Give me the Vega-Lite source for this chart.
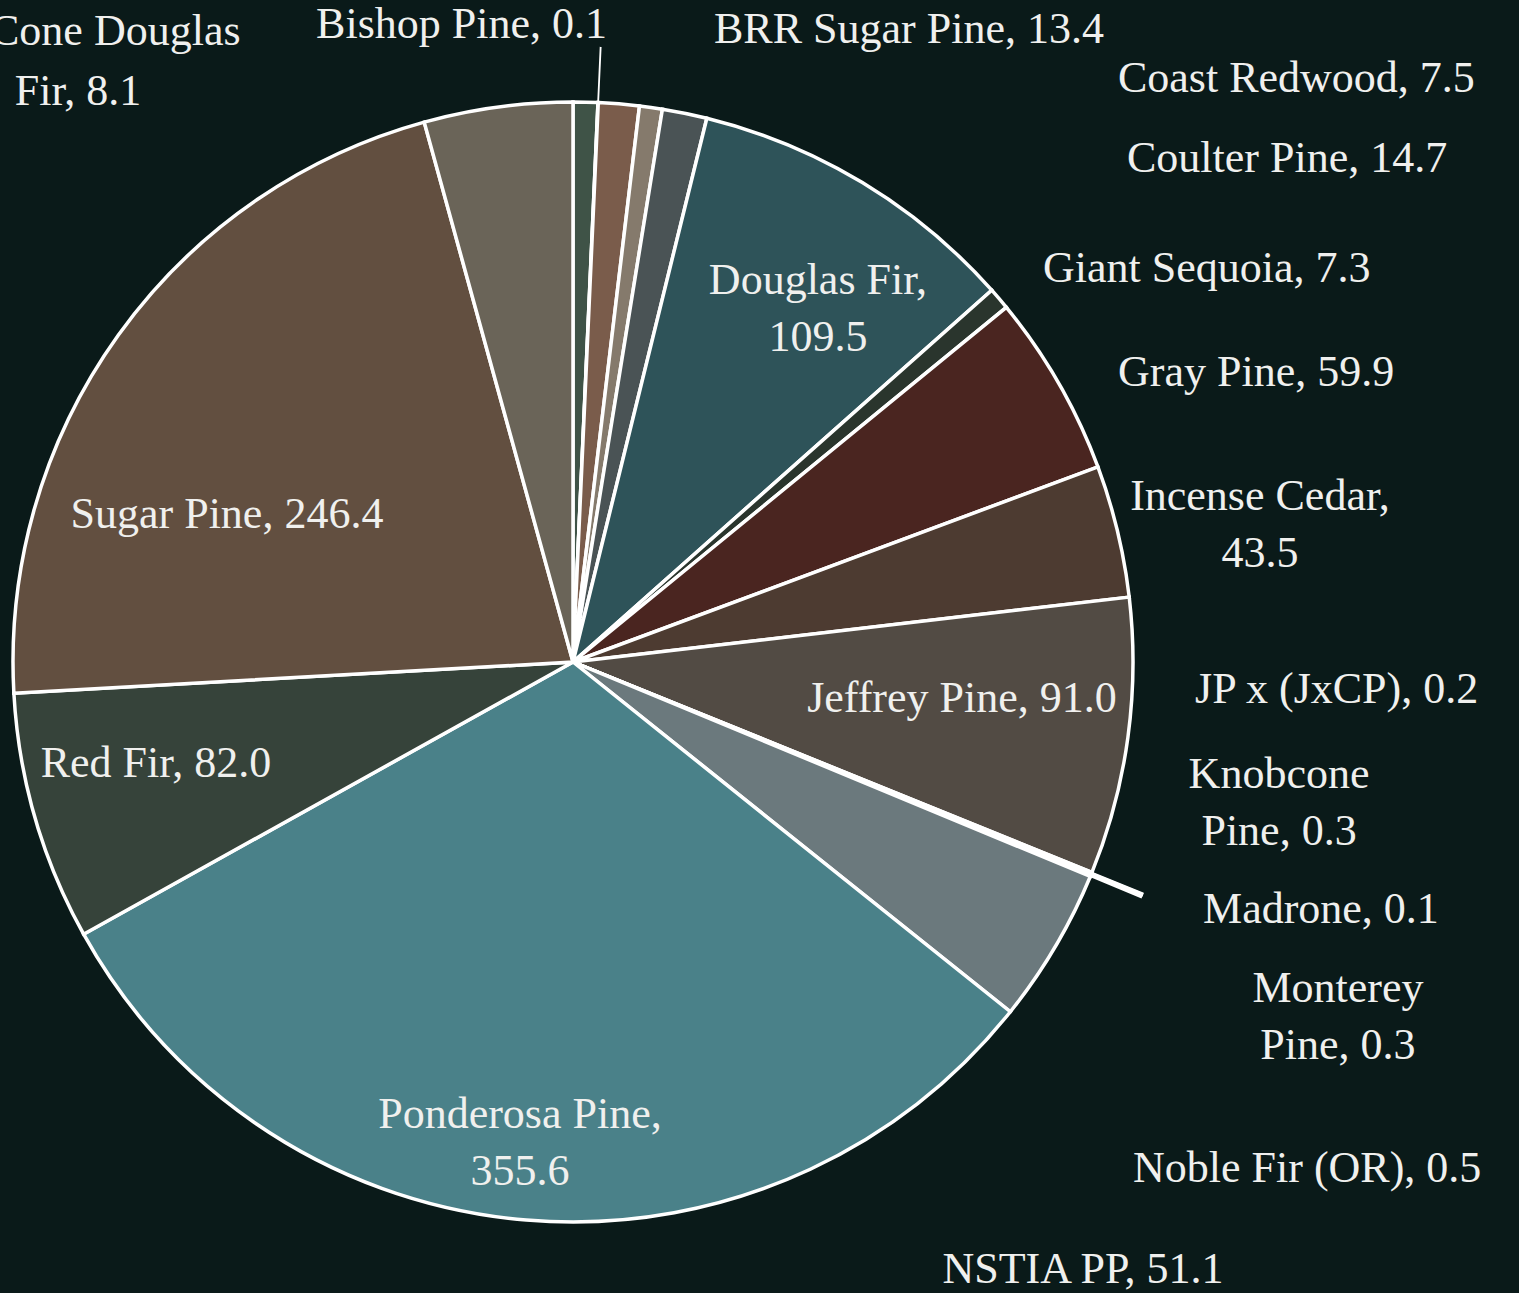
{
  "$schema": "https://vega.github.io/schema/vega-lite/v6.json",
  "autosize": "none",
  "width": 1146,
  "height": 1146,
  "padding": {"left": 0, "top": 89, "right": 373, "bottom": 58},
  "background": "#0a1a19",
  "config": {"view": {"stroke": null}},
  "data": {"values": [
    {"idx": 1, "name": "Big Cone Douglas Fir", "value": 8.1, "label": "Big Cone Douglas\nFir, 8.1"},
    {"idx": 2, "name": "Bishop Pine", "value": 0.1, "label": "Bishop Pine, 0.1"},
    {"idx": 3, "name": "BRR Sugar Pine", "value": 13.4, "label": "BRR Sugar Pine, 13.4"},
    {"idx": 4, "name": "Coast Redwood", "value": 7.5, "label": "Coast Redwood, 7.5"},
    {"idx": 5, "name": "Coulter Pine", "value": 14.7, "label": "Coulter Pine, 14.7"},
    {"idx": 6, "name": "Douglas Fir", "value": 109.5, "label": "Douglas Fir,\n109.5"},
    {"idx": 7, "name": "Giant Sequoia", "value": 7.3, "label": "Giant Sequoia, 7.3"},
    {"idx": 8, "name": "Gray Pine", "value": 59.9, "label": "Gray Pine, 59.9"},
    {"idx": 9, "name": "Incense Cedar", "value": 43.5, "label": "Incense Cedar,\n43.5"},
    {"idx": 10, "name": "Jeffrey Pine", "value": 91.0, "label": "Jeffrey Pine, 91.0"},
    {"idx": 11, "name": "JP x (JxCP)", "value": 0.2, "label": "JP x (JxCP), 0.2"},
    {"idx": 12, "name": "Knobcone Pine", "value": 0.3, "label": "Knobcone\nPine, 0.3"},
    {"idx": 13, "name": "Madrone", "value": 0.1, "label": "Madrone, 0.1"},
    {"idx": 14, "name": "Monterey Pine", "value": 0.3, "label": "Monterey\nPine, 0.3"},
    {"idx": 15, "name": "Noble Fir (OR)", "value": 0.5, "label": "Noble Fir (OR), 0.5"},
    {"idx": 16, "name": "NSTIA PP", "value": 51.1, "label": "NSTIA PP, 51.1"},
    {"idx": 17, "name": "Ponderosa Pine", "value": 355.6, "label": "Ponderosa Pine,\n355.6"},
    {"idx": 18, "name": "Red Fir", "value": 82.0, "label": "Red Fir, 82.0"},
    {"idx": 19, "name": "Sugar Pine", "value": 246.4, "label": "Sugar Pine, 246.4"},
    {"idx": 20, "name": "White Fir", "value": 48.8, "label": "White Fir, 48.8"}
  ]},
  "encoding": {
    "theta": {"field": "value", "type": "quantitative", "stack": true},
    "order": {"field": "idx", "type": "quantitative"},
    "detail": {"field": "name", "type": "nominal"}
  },
  "layer": [
    {
      "mark": {"type": "arc", "outerRadius": 560, "stroke": "#ffffff", "strokeWidth": 3.5},
      "encoding": {
        "color": {
          "field": "name", "type": "nominal", "legend": null,
          "scale": {
            "domain": ["Big Cone Douglas Fir", "Bishop Pine", "BRR Sugar Pine", "Coast Redwood", "Coulter Pine", "Douglas Fir", "Giant Sequoia", "Gray Pine", "Incense Cedar", "Jeffrey Pine", "JP x (JxCP)", "Knobcone Pine", "Madrone", "Monterey Pine", "Noble Fir (OR)", "NSTIA PP", "Ponderosa Pine", "Red Fir", "Sugar Pine", "White Fir"],
            "range": ["#3f5347", "#4a5f52", "#7a5c4b", "#857a6c", "#4a5355", "#2e5359", "#2a352d", "#4a2520", "#4d3b31", "#524b44", "#5c5a50", "#3f4d48", "#6a4b3b", "#34504f", "#56696a", "#6b797d", "#4a8189", "#36433a", "#624f40", "#6a6458"]
          }
        }
      }
    },
    {
      "mark": {"type": "arc", "innerRadius": 560, "outerRadius": 615, "fillOpacity": 0, "stroke": "#ffffff", "strokeWidth": 1.5},
      "encoding": {
        "strokeOpacity": {"condition": {"test": "indexof([2, 11, 12, 13, 14, 15], datum.idx) >= 0", "value": 1}, "value": 0}
      }
    },
    {
      "mark": {"type": "text", "radius": 560, "align": "center", "baseline": "alphabetic", "dx": -507.5, "dy": -57.1, "font": "Liberation Serif", "fontSize": 44, "lineHeight": 60, "lineBreak": "\n", "fill": "#f0f0ee"},
      "encoding": {"text": {"condition": {"test": "datum.idx === 1", "field": "label", "type": "nominal"}, "value": ""}}
    },
    {
      "mark": {"type": "text", "radius": 560, "align": "right", "baseline": "alphabetic", "dx": 8.9, "dy": -64.6, "font": "Liberation Serif", "fontSize": 44, "lineHeight": 57, "lineBreak": "\n", "fill": "#f0f0ee"},
      "encoding": {"text": {"condition": {"test": "datum.idx === 2", "field": "label", "type": "nominal"}, "value": ""}}
    },
    {
      "mark": {"type": "text", "radius": 560, "align": "left", "baseline": "alphabetic", "dx": 95.1, "dy": -60.9, "font": "Liberation Serif", "fontSize": 44, "lineHeight": 57, "lineBreak": "\n", "fill": "#f0f0ee"},
      "encoding": {"text": {"condition": {"test": "datum.idx === 3", "field": "label", "type": "nominal"}, "value": ""}}
    },
    {
      "mark": {"type": "text", "radius": 560, "align": "left", "baseline": "alphabetic", "dx": 467, "dy": -15.5, "font": "Liberation Serif", "fontSize": 44, "lineHeight": 57, "lineBreak": "\n", "fill": "#f0f0ee"},
      "encoding": {"text": {"condition": {"test": "datum.idx === 4", "field": "label", "type": "nominal"}, "value": ""}}
    },
    {
      "mark": {"type": "text", "radius": 560, "align": "left", "baseline": "alphabetic", "dx": 442.3, "dy": 58.7, "font": "Liberation Serif", "fontSize": 44, "lineHeight": 57, "lineBreak": "\n", "fill": "#f0f0ee"},
      "encoding": {"text": {"condition": {"test": "datum.idx === 5", "field": "label", "type": "nominal"}, "value": ""}}
    },
    {
      "mark": {"type": "text", "radius": 400, "align": "center", "baseline": "alphabetic", "dx": 38.3, "dy": -25.5, "font": "Liberation Serif", "fontSize": 44, "lineHeight": 57, "lineBreak": "\n", "fill": "#f0f0ee"},
      "encoding": {"text": {"condition": {"test": "datum.idx === 6", "field": "label", "type": "nominal"}, "value": ""}}
    },
    {
      "mark": {"type": "text", "radius": 560, "align": "left", "baseline": "alphabetic", "dx": 43.8, "dy": -16.7, "font": "Liberation Serif", "fontSize": 44, "lineHeight": 57, "lineBreak": "\n", "fill": "#f0f0ee"},
      "encoding": {"text": {"condition": {"test": "datum.idx === 7", "field": "label", "type": "nominal"}, "value": ""}}
    },
    {
      "mark": {"type": "text", "radius": 560, "align": "left", "baseline": "alphabetic", "dx": 59.3, "dy": 2.7, "font": "Liberation Serif", "fontSize": 44, "lineHeight": 57, "lineBreak": "\n", "fill": "#f0f0ee"},
      "encoding": {"text": {"condition": {"test": "datum.idx === 8", "field": "label", "type": "nominal"}, "value": ""}}
    },
    {
      "mark": {"type": "text", "radius": 560, "align": "center", "baseline": "alphabetic", "dx": 142.5, "dy": -21.1, "font": "Liberation Serif", "fontSize": 44, "lineHeight": 57, "lineBreak": "\n", "fill": "#f0f0ee"},
      "encoding": {"text": {"condition": {"test": "datum.idx === 9", "field": "label", "type": "nominal"}, "value": ""}}
    },
    {
      "mark": {"type": "text", "radius": 400, "align": "center", "baseline": "alphabetic", "dx": -7.4, "dy": -3.7, "font": "Liberation Serif", "fontSize": 44, "lineHeight": 57, "lineBreak": "\n", "fill": "#f0f0ee"},
      "encoding": {"text": {"condition": {"test": "datum.idx === 10", "field": "label", "type": "nominal"}, "value": ""}}
    },
    {
      "mark": {"type": "text", "radius": 560, "align": "left", "baseline": "alphabetic", "dx": 103.2, "dy": -169.7, "font": "Liberation Serif", "fontSize": 44, "lineHeight": 57, "lineBreak": "\n", "fill": "#f0f0ee"},
      "encoding": {"text": {"condition": {"test": "datum.idx === 11", "field": "label", "type": "nominal"}, "value": ""}}
    },
    {
      "mark": {"type": "text", "radius": 560, "align": "center", "baseline": "alphabetic", "dx": 187.5, "dy": -85.4, "font": "Liberation Serif", "fontSize": 44, "lineHeight": 57, "lineBreak": "\n", "fill": "#f0f0ee"},
      "encoding": {"text": {"condition": {"test": "datum.idx === 12", "field": "label", "type": "nominal"}, "value": ""}}
    },
    {
      "mark": {"type": "text", "radius": 560, "align": "left", "baseline": "alphabetic", "dx": 111.7, "dy": 49, "font": "Liberation Serif", "fontSize": 44, "lineHeight": 57, "lineBreak": "\n", "fill": "#f0f0ee"},
      "encoding": {"text": {"condition": {"test": "datum.idx === 13", "field": "label", "type": "nominal"}, "value": ""}}
    },
    {
      "mark": {"type": "text", "radius": 560, "align": "center", "baseline": "alphabetic", "dx": 246.9, "dy": 127.4, "font": "Liberation Serif", "fontSize": 44, "lineHeight": 57, "lineBreak": "\n", "fill": "#f0f0ee"},
      "encoding": {"text": {"condition": {"test": "datum.idx === 14", "field": "label", "type": "nominal"}, "value": ""}}
    },
    {
      "mark": {"type": "text", "radius": 560, "align": "left", "baseline": "alphabetic", "dx": 42.4, "dy": 306.3, "font": "Liberation Serif", "fontSize": 44, "lineHeight": 57, "lineBreak": "\n", "fill": "#f0f0ee"},
      "encoding": {"text": {"condition": {"test": "datum.idx === 15", "field": "label", "type": "nominal"}, "value": ""}}
    },
    {
      "mark": {"type": "text", "radius": 560, "align": "center", "baseline": "alphabetic", "dx": 27.9, "dy": 336, "font": "Liberation Serif", "fontSize": 44, "lineHeight": 57, "lineBreak": "\n", "fill": "#f0f0ee"},
      "encoding": {"text": {"condition": {"test": "datum.idx === 16", "field": "label", "type": "nominal"}, "value": ""}}
    },
    {
      "mark": {"type": "text", "radius": 400, "align": "center", "baseline": "alphabetic", "dx": -19.7, "dy": 67.4, "font": "Liberation Serif", "fontSize": 44, "lineHeight": 57, "lineBreak": "\n", "fill": "#f0f0ee"},
      "encoding": {"text": {"condition": {"test": "datum.idx === 17", "field": "label", "type": "nominal"}, "value": ""}}
    },
    {
      "mark": {"type": "text", "radius": 400, "align": "center", "baseline": "alphabetic", "dx": -32.8, "dy": 3.8, "font": "Liberation Serif", "fontSize": 44, "lineHeight": 57, "lineBreak": "\n", "fill": "#f0f0ee"},
      "encoding": {"text": {"condition": {"test": "datum.idx === 18", "field": "label", "type": "nominal"}, "value": ""}}
    },
    {
      "mark": {"type": "text", "radius": 400, "align": "center", "baseline": "alphabetic", "dx": -21.2, "dy": 99.4, "font": "Liberation Serif", "fontSize": 44, "lineHeight": 57, "lineBreak": "\n", "fill": "#f0f0ee"},
      "encoding": {"text": {"condition": {"test": "datum.idx === 19", "field": "label", "type": "nominal"}, "value": ""}}
    }
  ]
}
